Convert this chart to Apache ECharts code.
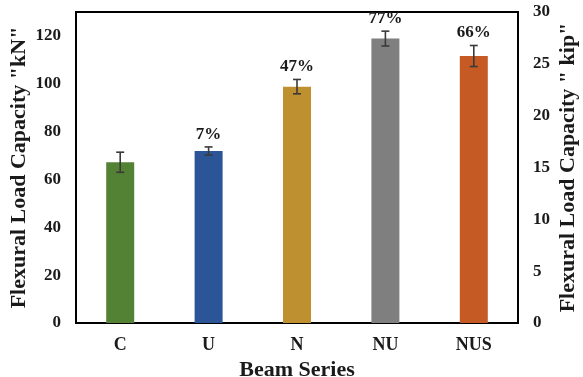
<!DOCTYPE html>
<html>
<head>
<meta charset="utf-8">
<script src="https://cdn.jsdelivr.net/npm/echarts@6/dist/echarts.min.js"></script>
<style>
  html, body { margin: 0; padding: 0; background: #fff; }
  #chart { width: 583px; height: 377px; }
</style>
</head>
<body>
<div id="chart"></div>
<script>
// Beam series and their flexural capacities (kN) with scatter (± kN)
const categories = ['C', 'U', 'N', 'NU', 'NUS'];
const capacityKN = [67.2, 71.9, 98.8, 118.9, 111.6];
const errorKN = [4.2, 1.7, 3.0, 3.1, 4.4];
// Increase over the control beam C
const increaseLabels = ['', '7%', '47%', '77%', '66%'];
const barColors = ['#548235', '#2B5597', '#BF9030', '#7F7F7F', '#C65A24'];
const leftTicks = [0, 20, 40, 60, 80, 100, 120];
const rightTicks = [0, 5, 10, 15, 20, 25, 30];

const FONT = '"Liberation Serif", "Times New Roman", serif';

const chart = echarts.init(document.getElementById('chart'));

const barData = capacityKN.map((v, i) => ({
  value: v,
  itemStyle: { color: barColors[i] }
}));

const errData = capacityKN.map((v, i) => [i, v, errorKN[i]]);

chart.setOption({
  animation: false,
  grid: {
    left: 76, right: 65, top: 12, bottom: 54,
    outerBoundsMode: 'none',
    containLabel: false,
    show: true, borderColor: '#000', borderWidth: 2, backgroundColor: 'transparent'
  },
  xAxis: {
    type: 'category',
    data: categories,
    name: 'Beam Series',
    nameLocation: 'middle',
    nameGap: 32,
    nameTextStyle: { fontFamily: FONT, fontWeight: 'bold', fontSize: 22, color: '#1a1a1a' },
    axisLine: { show: false },
    axisTick: { show: false },
    axisLabel: { fontFamily: FONT, fontWeight: 'bold', fontSize: 18, color: '#1a1a1a', margin: 13 }
  },
  yAxis: [
    {
      type: 'value',
      min: 0, max: 130, interval: 20,
      name: 'Flexural Load Capacity "kN"',
      nameLocation: 'middle',
      nameGap: 46,
      nameMoveOverlap: false,
      nameTextStyle: { fontFamily: FONT, fontWeight: 'bold', fontSize: 22, color: '#1a1a1a' },
      axisLine: { show: false },
      axisTick: { show: false },
      splitLine: { show: false },
      axisLabel: {
        fontFamily: FONT, fontWeight: 'bold', fontSize: 17, color: '#1a1a1a', margin: 15,
        formatter: v => (leftTicks.includes(v) ? String(v) : '')
      }
    },
    {
      type: 'value',
      min: 0, max: 30, interval: 5,
      position: 'right',
      name: 'Flexural Load Capacity " kip"',
      nameLocation: 'middle',
      nameGap: 39,
      nameMoveOverlap: false,
      nameRotate: 90,
      nameTextStyle: { fontFamily: FONT, fontWeight: 'bold', fontSize: 22, color: '#1a1a1a' },
      axisLine: { show: false },
      axisTick: { show: false },
      splitLine: { show: false },
      axisLabel: {
        fontFamily: FONT, fontWeight: 'bold', fontSize: 17, color: '#1a1a1a', margin: 15,
        formatter: v => (rightTicks.includes(v) ? String(v) : '')
      }
    }
  ],
  series: [
    {
      type: 'bar',
      data: barData,
      barWidth: 28,
      yAxisIndex: 0
    },
    {
      type: 'custom',
      yAxisIndex: 0,
      data: errData,
      z: 5,
      renderItem: function (params, api) {
        const idx = api.value(0);
        const mean = api.value(1);
        const err = api.value(2);
        const label = increaseLabels[idx];
        const top = api.coord([idx, mean + err]);
        const bot = api.coord([idx, mean - err]);
        const cap = 4;
        const style = { stroke: '#3a3a3a', lineWidth: 1.6 };
        const children = [
          { type: 'line', shape: { x1: top[0], y1: top[1], x2: bot[0], y2: bot[1] }, style: style },
          { type: 'line', shape: { x1: top[0] - cap, y1: top[1], x2: top[0] + cap, y2: top[1] }, style: style },
          { type: 'line', shape: { x1: bot[0] - cap, y1: bot[1], x2: bot[0] + cap, y2: bot[1] }, style: style }
        ];
        if (label) {
          children.push({
            type: 'text',
            style: {
              x: top[0], y: top[1] - 4,
              text: label,
              align: 'center', verticalAlign: 'bottom',
              fontFamily: FONT, fontWeight: 'bold', fontSize: 17, fill: '#1a1a1a'
            }
          });
        }
        return { type: 'group', children: children };
      }
    }
  ]
});
</script>
</body>
</html>
